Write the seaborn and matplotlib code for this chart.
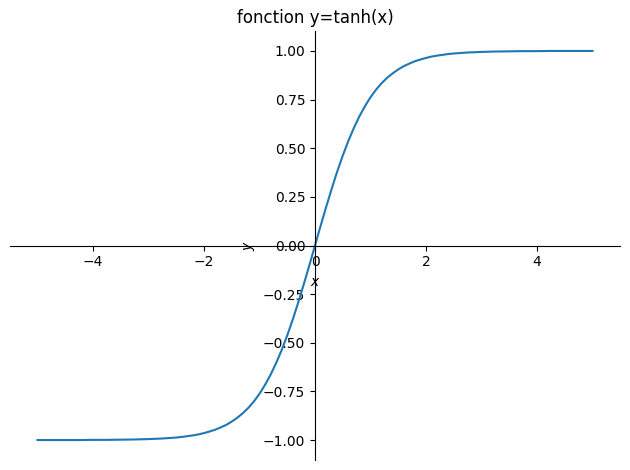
import matplotlib
matplotlib.use('Agg')
import matplotlib.pyplot as plt
import seaborn as sns

# valeurs
x_vals = [-5.0, -4.75, -4.5, -4.25, -4.0, -3.75, -3.5, -3.25, -3.0, -2.75,
          -2.5, -2.4, -2.3, -2.2, -2.1, -2.0, -1.9, -1.8, -1.7, -1.6,
          -1.5, -1.4, -1.3, -1.2, -1.1, -1.0, -0.9, -0.8, -0.7, -0.6,
          -0.5, -0.4, -0.3, -0.2, -0.1, 0.0, 0.1, 0.2, 0.3, 0.4,
          0.5, 0.6, 0.7, 0.8, 0.9, 1.0, 1.1, 1.2, 1.3, 1.4,
          1.5, 1.6, 1.7, 1.8, 1.9, 2.0, 2.1, 2.2, 2.3, 2.4,
          2.5, 2.75, 3.0, 3.25, 3.5, 3.75, 4.0, 4.25, 4.5, 4.75, 5.0]
y_vals = [-1.0, -1.0, -1.0, -1.0, -0.999, -0.999, -0.998, -0.997, -0.995, -0.992,
          -0.987, -0.984, -0.980, -0.976, -0.971, -0.964, -0.956, -0.947, -0.935, -0.922,
          -0.905, -0.885, -0.862, -0.834, -0.801, -0.762, -0.716, -0.664, -0.604, -0.537,
          -0.462, -0.380, -0.291, -0.197, -0.100, 0.0, 0.100, 0.197, 0.291, 0.380,
          0.462, 0.537, 0.604, 0.664, 0.716, 0.762, 0.801, 0.834, 0.862, 0.885,
          0.905, 0.922, 0.935, 0.947, 0.956, 0.964, 0.971, 0.976, 0.980, 0.984,
          0.987, 0.992, 0.995, 0.997, 0.998, 0.999, 0.999, 1.0, 1.0, 1.0, 1.0]

fig, ax = plt.subplots(figsize=(6.3, 4.7), dpi=100)
sns.lineplot(x=x_vals, y=y_vals, ax=ax, color='#1f77b4')

# axes centrés
ax.spines['left'].set_position('zero')
ax.spines['bottom'].set_position('zero')
ax.spines['top'].set_visible(False)
ax.spines['right'].set_visible(False)

ax.set_xlabel('$x$')
ax.set_ylabel('$y$')
ax.set_title('fonction y=tanh(x)')

plt.subplots_adjust(left=0.0155, right=0.9845, top=0.933, bottom=0.0223)
plt.savefig('out.png', dpi=100)
